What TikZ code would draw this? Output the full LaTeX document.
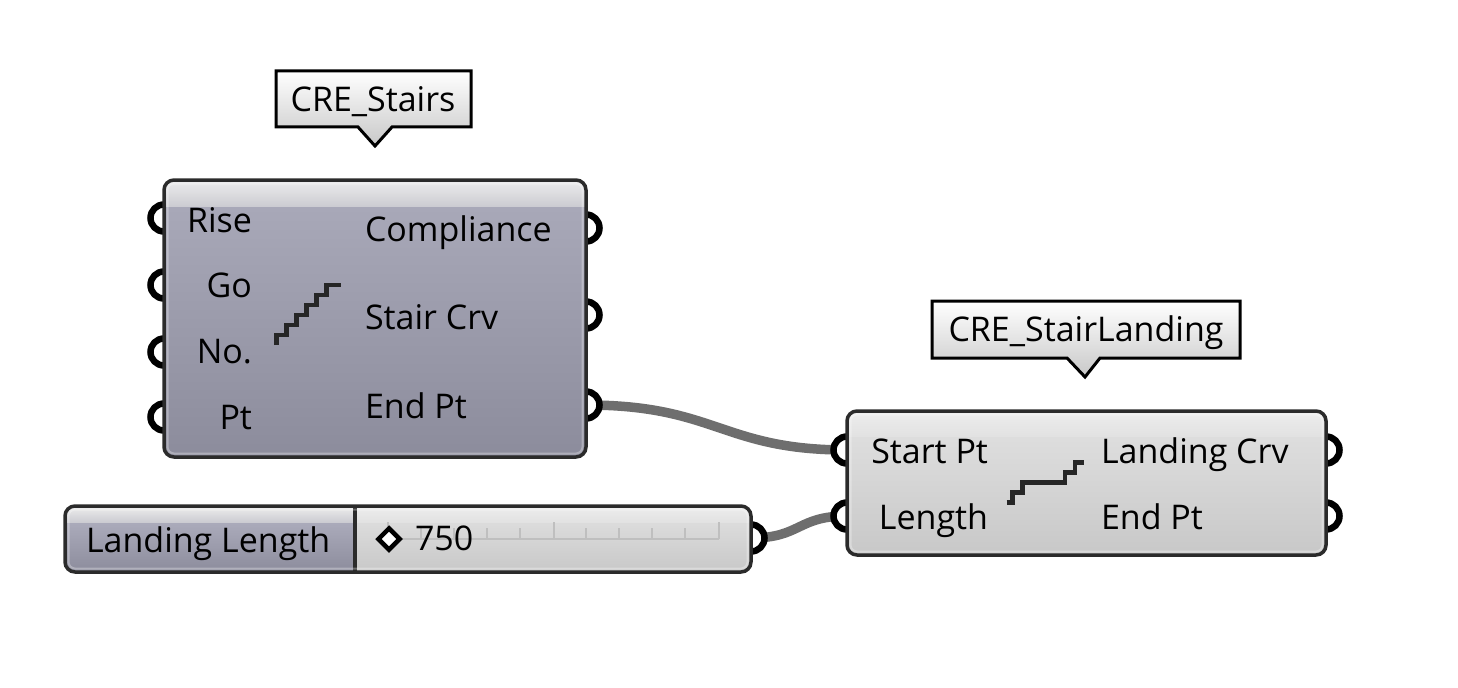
\documentclass[tikz,border=0pt]{standalone}
\usepackage{fontspec}
\setmainfont{Open Sans}
\usepackage{xcolor}
\usetikzlibrary{shapes.geometric, positioning, calc, backgrounds}
\def\px{0.75pt}
\definecolor{darkline}{HTML}{2B2B2B}
\definecolor{wiregray}{HTML}{6E6E6E}
\definecolor{nickTop}{HTML}{ABABBB}
\definecolor{nickBot}{HTML}{8C8C9C}
\definecolor{lightTop}{HTML}{E2E2E2}
\definecolor{lightBot}{HTML}{C8C8C8}
\definecolor{bandTop}{HTML}{EDEDED}
\definecolor{bandBot}{HTML}{CCCCD2}
\tikzset{
    comp/.style={rectangle, rounded corners=7.5pt, outer sep=0pt, inner sep=0pt},
    darkcomp/.style={comp, top color=nickTop, bottom color=nickBot},
    lightcomp/.style={comp, top color=lightTop, bottom color=lightBot},
    outline/.style={draw=darkline, line width=3.5*\px, rounded corners=7.5pt},
    glow/.style={draw=white, opacity=0.3, line width=2*\px, rounded corners=5pt},
    port/.style={circle, draw=black, fill=white, line width=6.5*\px, minimum size=27*\px, inner sep=0pt, outer sep=0pt},
    wire/.style={draw=wiregray, line width=9.5*\px},
    txt/.style={font=\fontsize{25.5}{30}\selectfont, text=black, inner sep=0pt, outer sep=0pt, yshift=-0.75pt},
    inlabel/.style={txt, anchor=base east},
    outlabel/.style={txt, anchor=base west},
    tagbox/.style={draw=black, line width=3*\px, top color=white, bottom color=lightBot, miter limit=10},
    icon/.style={draw=black!85, line width=4.5*\px},
    tick/.style={draw=black!25, line width=2*\px}
}
\begin{document}
\begin{tikzpicture}[x=0.75pt, y=-0.75pt]
  \useasboundingbox (0,0) rectangle (1458,688);

  % --- Ports of the three components, under their boxes ---
  \coordinate (stairsnw) at (164,180);
  \coordinate (landingnw) at (847,411);
  \foreach \nm/\yy in {rise/38, go/105, no/172, pt/237}
    \node[port] (\nm) at ($(stairsnw)+(0,\yy)$) {};
  \foreach \nm/\yy in {compliance/48, staircrv/135, endpt/225}
    \node[port] (\nm) at ($(stairsnw)+(422,\yy)$) {};
  \node[port] (startin) at ($(landingnw)+(0,39)$) {};
  \node[port] (lengthin) at ($(landingnw)+(0,105)$) {};
  \node[port] (crvout) at ($(landingnw)+(479,39)$) {};
  \node[port] (endout) at ($(landingnw)+(479,105)$) {};
  \node[port] (valueout) at (751,538) {};

  % --- Stairs component ---
  \node[darkcomp, anchor=north west, minimum width=422*\px, minimum height=277*\px] (stairs) at (stairsnw) {};
  \begin{scope}
    \clip[rounded corners=7.5pt] (stairs.north west) rectangle (stairs.south east);
    \shade[top color=bandTop, bottom color=bandBot] (stairs.north west) rectangle ($(stairs.north east)+(0,26)$);
  \end{scope}
  \draw[outline] (stairs.north west) rectangle (stairs.south east);

  \node[inlabel] (riselabel) at ($(stairsnw)+(88,51)$) {Rise};
  \node[inlabel] (golabel) at ($(stairsnw)+(88,116)$) {Go};
  \node[inlabel] (nolabel) at ($(stairsnw)+(88,182)$) {No.};
  \node[inlabel] (ptlabel) at ($(stairsnw)+(88,248)$) {Pt};
  \node[outlabel] (compliancelabel) at ($(stairsnw)+(201,60)$) {Compliance};
  \node[outlabel] (crvlabel) at ($(stairsnw)+(201,148)$) {Stair Crv};
  \node[outlabel] (endlabel) at ($(stairsnw)+(201,237)$) {End Pt};

  \draw[icon] (276.7,345) -- (276.7,335) -- (286.7,335) -- (286.7,325) -- (296.7,325) -- (296.7,315)
    -- (306.7,315) -- (306.7,305) -- (316.7,305) -- (316.7,295) -- (326.7,295) -- (326.7,285) -- (341,285);

  % --- Landing component ---
  \node[lightcomp, anchor=north west, minimum width=479*\px, minimum height=144*\px] (landing) at (landingnw) {};
  \begin{scope}
    \clip[rounded corners=7.5pt] (landing.north west) rectangle (landing.south east);
    \shade[top color=bandTop, bottom color=lightTop] (landing.north west) rectangle ($(landing.north east)+(0,25)$);
  \end{scope}
  \draw[outline] (landing.north west) rectangle (landing.south east);

  \node[inlabel] (startlabel) at ($(landingnw)+(141,51)$) {Start Pt};
  \node[inlabel] (lengthlabel) at ($(landingnw)+(141,117)$) {Length};
  \node[outlabel] (landcrvlabel) at ($(landingnw)+(254,51)$) {Landing Crv};
  \node[outlabel] (landendlabel) at ($(landingnw)+(254,117)$) {End Pt};

  \draw[icon] (1006.7,502.7) -- (1012.7,502.7) -- (1012.7,492.7) -- (1022.7,492.7) -- (1022.7,482.7)
    -- (1065,482.7) -- (1065,472.7) -- (1075,472.7) -- (1075,462.7) -- (1084,462.7);

  % --- Slider ---
  \node[lightcomp, anchor=north west, minimum width=686*\px, minimum height=66*\px] (slider) at (65,506) {};
  \begin{scope}
    \clip[rounded corners=7.5pt] (slider.north west) rectangle (slider.south east);
    \shade[top color=bandTop, bottom color=lightTop] (slider.north west) rectangle ($(slider.north east)+(0,16)$);
    \shade[top color=nickTop, bottom color=nickBot] (65,522) rectangle (355,572);
    \shade[top color=bandTop, bottom color=bandBot] (65,506) rectangle (355,522);
  \end{scope}
  \draw[outline] (slider.north west) rectangle (slider.south east);
  \draw[darkline, line width=3.5*\px] (355,506) -- (355,572);

  \draw[tick] (388,539) -- (719,539);
  \foreach \xx in {421,454,487,520,586,619,652,685}
    \draw[tick] (\xx,528) -- (\xx,539);
  \foreach \xx in {388,553.5,719}
    \draw[tick] (\xx,522) -- (\xx,539);

  \node[txt, anchor=base west] (sliderlabel) at (86,551) {Landing Length};
  \node[diamond, aspect=1, draw=black, fill=white, line width=4.5*\px, minimum size=23*\px, inner sep=0pt] (grip) at (389,539) {};
  \node[txt, anchor=base west] (slidervalue) at (415,549) {750};

  % --- Inner edge highlight ---
  \foreach \nm in {stairs,landing,slider}
    \draw[glow] ($(\nm.north west)+(3.5,3.5)$) rectangle ($(\nm.south east)+(-3.5,-3.5)$);

  % --- Tags ---
  \draw[tagbox] (276,71) -- (471,71) -- (471,127) -- (392,127) -- (375,146) -- (358,127) -- (276,127) -- cycle;
  \node[txt] (stairstag) at (373,101) {CRE\_Stairs};
  \draw[tagbox] (932,301) -- (1240,301) -- (1240,358) -- (1100,358) -- (1085,377) -- (1067,358) -- (932,358) -- cycle;
  \node[txt] (landingtag) at (1086,332) {CRE\_StairLanding};

  % --- Wires ---
  \begin{scope}[on background layer]
    \draw[wire] (endpt.center) .. controls +(130,0) and +(-125,0) .. (startin.center);
    \draw[wire] (valueout.center) .. controls +(50,0) and +(-50,0) .. (lengthin.center);
  \end{scope}

\end{tikzpicture}
\end{document}
